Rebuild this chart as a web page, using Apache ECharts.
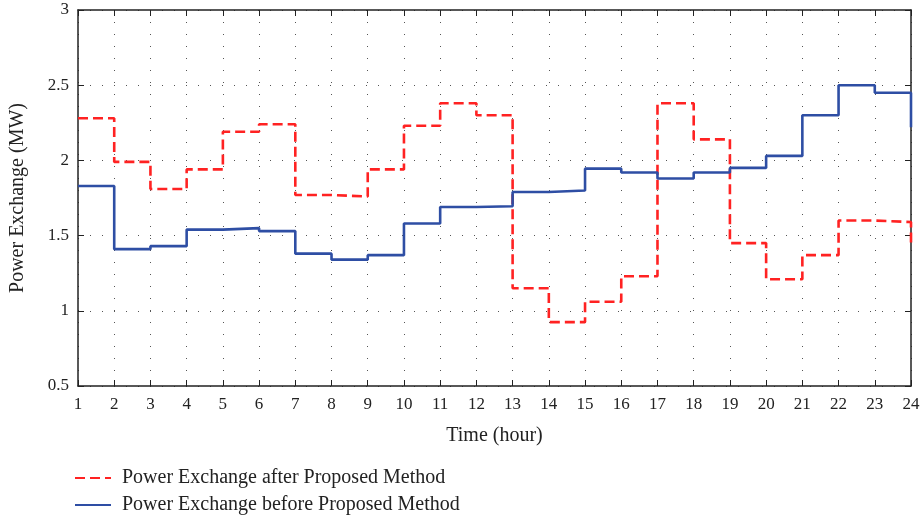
<!DOCTYPE html>
<html>
<head>
<meta charset="utf-8">
<script src="https://cdn.jsdelivr.net/npm/echarts@6/dist/echarts.min.js"></script>
<style>html,body{margin:0;padding:0;background:#fff}#c{width:924px;height:519px}</style>
</head>
<body>
<div id="c"></div>
<script>
var hours = [1,2,3,4,5,6,7,8,9,10,11,12,13,14,15,16,17,18,19,20,21,22,23,24];
var afterMethod = [2.28,1.99,1.81,1.94,2.19,2.24,1.77,1.76,1.94,2.23,2.38,2.30,1.15,0.925,1.06,1.23,2.38,2.14,1.45,1.21,1.37,1.60,1.59,1.43];
var beforeMethod = [1.83,1.41,1.43,1.54,1.55,1.53,1.38,1.34,1.37,1.58,1.69,1.695,1.79,1.80,1.945,1.92,1.88,1.92,1.95,2.03,2.30,2.50,2.45,2.22];
var yTicks = [0.5,1,1.5,2,2.5,3];
var seriesNames = ['Power Exchange after Proposed Method','Power Exchange before Proposed Method'];

var font = 'Liberation Serif';
function pairs(v){ return hours.map(function(h,i){ return [h, v[i]]; }); }
var gridColor = '#555';
var chart = echarts.init(document.getElementById('c'));
chart.setOption({
  animation: false,
  textStyle: {fontFamily: font},
  grid: {left: 74, right: 13, top: 10, bottom: 133, containLabel: false},
  legend: {
    orient: 'vertical', left: 74, top: 468, itemGap: 7, itemWidth: 36, itemHeight: 22,
    textStyle: {fontFamily: font, fontSize: 20, color: '#222', padding: [0, 0, 0, 6]},
    itemStyle: {opacity: 0},
    padding: 0,
    data: seriesNames
  },
  xAxis: [{
    type: 'value', min: 1, max: 24, interval: 1,
    name: 'Time (hour)', nameLocation: 'middle', nameGap: 40,
    nameTextStyle: {fontFamily: font, fontSize: 20, color: '#222'},
    axisLine: {lineStyle: {color: '#222', width: 1.5}},
    axisTick: {inside: true, length: 6, lineStyle: {color: '#222'}},
    axisLabel: {fontFamily: font, fontSize: 17, color: '#222', margin: 10},
    splitLine: {show: true, lineStyle: {color: gridColor, type: [1, 11], width: 1}}
  },{
    type: 'value', min: 1, max: 24, interval: 1, position: 'top',
    axisLine: {show: true, lineStyle: {color: '#222', width: 1.5}},
    axisTick: {inside: true, length: 6, lineStyle: {color: '#222'}},
    axisLabel: {show: false}, splitLine: {show: false}
  }],
  yAxis: [{
    type: 'value', min: 0.5, max: 3, interval: 0.5,
    name: 'Power Exchange (MW)', nameLocation: 'middle', nameGap: 50,
    nameTextStyle: {fontFamily: font, fontSize: 20, color: '#222'},
    axisLine: {show: true, lineStyle: {color: '#222', width: 1.5}},
    axisTick: {show: true, inside: true, length: 6, lineStyle: {color: '#222'}},
    axisLabel: {fontFamily: font, fontSize: 17, color: '#222', margin: 9,
      formatter: function(v){ return yTicks.indexOf(v) >= 0 ? String(v) : ''; }},
    splitLine: {show: true, lineStyle: {color: gridColor, type: [1, 11], width: 1}}
  },{
    type: 'value', min: 0.5, max: 3, interval: 0.5, position: 'right',
    axisLine: {show: true, lineStyle: {color: '#222', width: 1.5}},
    axisTick: {show: true, inside: true, length: 6, lineStyle: {color: '#222'}},
    axisLabel: {show: false}, splitLine: {show: false}
  }],
  series: [{
    name: seriesNames[0], type: 'line', step: 'end', symbol: 'none',
    data: pairs(afterMethod),
    lineStyle: {color: '#ff2222', width: 2.6, type: [10, 5]},
    itemStyle: {color: '#ff2222'}, z: 3
  },{
    name: seriesNames[1], type: 'line', step: 'end', symbol: 'none',
    data: pairs(beforeMethod),
    lineStyle: {color: '#2e4ea4', width: 2.6},
    itemStyle: {color: '#2e4ea4'}, z: 4
  }]
});
</script>
</body>
</html>
